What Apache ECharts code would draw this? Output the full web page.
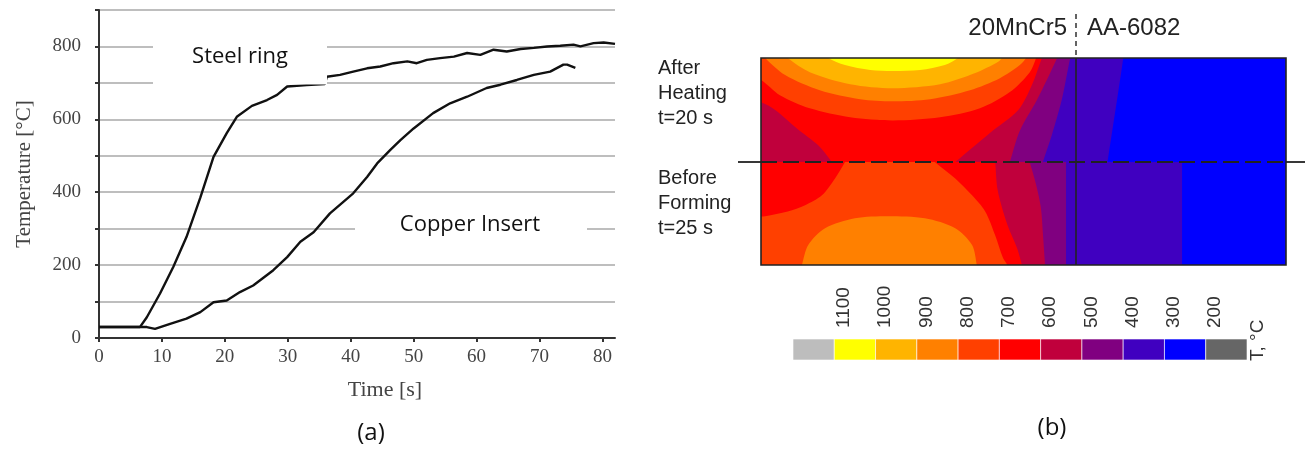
<!DOCTYPE html>
<html>
<head>
<meta charset="utf-8">
<script src="https://cdn.jsdelivr.net/npm/echarts@6/dist/echarts.min.js"></script>
<style>
html, body { margin: 0; padding: 0; background: #fff; }
#main { width: 1307px; height: 454px; }
</style>
</head>
<body>
<div id="main"></div>
<script>
// (a) measured temperatures, time [s] / temperature [°C]
const steelTime = [0, 6.5, 7.6, 9.7, 11.8, 13.9, 16.1, 18.2, 20.3, 21.9, 24.3, 26.7, 28.3, 29.9, 33, 35.9, 36.2, 38.3, 40.4, 42.6, 44.7, 46.8, 49.0, 50.5, 52.1, 54.2, 56.4, 58.5, 60.6, 62.7, 64.8, 67.0, 69.1, 71.2, 73.3, 75.4, 76.5, 78.6, 80.2, 82]
const steelTemp = [30, 30, 57, 122, 195, 277, 385, 497, 562, 607, 637, 653, 667, 690, 694, 697, 717, 722, 731, 740, 745, 754, 759, 754, 763, 768, 772, 782, 777, 791, 786, 793, 796, 800, 802, 805, 800, 809, 811, 807]
const copperTime = [0, 7.6, 8.9, 11.3, 13.9, 16.1, 18.2, 20.3, 22.4, 24.5, 27.7, 29.9, 32, 34.1, 36.7, 40.4, 42.6, 44.2, 46.3, 47.9, 50.0, 53.1, 55.8, 58.5, 61.6, 63.8, 66.4, 69.1, 71.7, 73.8, 74.4, 75.7]
const copperTemp = [30, 30, 25, 39, 53, 71, 98, 103, 126, 144, 186, 222, 264, 290, 342, 397, 442, 479, 516, 543, 575, 617, 644, 662, 686, 695, 708, 722, 731, 750, 750, 741]
const timeTicks = [0, 10, 20, 30, 40, 50, 60, 70, 80]
const tempLabels = [0, 200, 400, 600, 800]

// (b) isotherm regions (T >= level), x in % of section width, y in % of height
const isoLevels = [200, 300, 400, 500, 600, 700, 800, 900, 1000]
const isoColors = ['#0000ff', '#4000c0', '#800080', '#c0003c', '#ff0000', '#ff4000', '#ff8000', '#ffb400', '#ffff00']
const heatingIso = [
    [[-3, 47], [103, 47], [103, 103], [-3, 103]],
    [[69, 103], [69, 100], [66, 50], [65.8, 47], [-3, 47], [-3, 103]],
    [[59.3, 103], [58.9, 100], [57.3, 80], [55.4, 63], [53.7, 50], [53.5, 47], [-3, 47], [-3, 103]],
    [[56.8, 103], [56.4, 100], [52.6, 80], [49.3, 65], [47.4, 50], [47, 47], [-3, 47], [-3, 103]],
    [[54, 103], [53.5, 100], [51.6, 87], [49, 75], [43.6, 64], [37, 50], [35.5, 47], [14.5, 47], [13.5, 50], [10.9, 58], [6.9, 66], [2.7, 75], [0, 78.7], [-3, 80], [-3, 103]],
    [[52.6, 103], [52.4, 100], [51.2, 93.2], [47.4, 83.6], [41.7, 75.8], [34.1, 71.5], [25.1, 70], [17, 71.5], [9.3, 75.8], [3.6, 82.1], [0, 89.4], [-3, 92], [-3, 103]],
    [[0.2, 103], [0.8, 100], [4.6, 91.8], [11.2, 84.5], [18.9, 80.2], [25.1, 79.2], [32.2, 80.2], [39.8, 84.5], [45.5, 90.3], [49.3, 96.6], [50.5, 100], [51, 103]],
    [[4.5, 103], [5.1, 100], [9.3, 93.2], [17, 87.4], [25.1, 85.5], [34.1, 87.4], [40.8, 92.8], [45.1, 98.1], [45.9, 100], [46.3, 103]],
    [[12, 103], [12.8, 100], [16, 96.6], [20.8, 94.2], [25.1, 93.7], [30.3, 94.2], [35, 96.6], [37.5, 100], [38.3, 103]]
]
const formingIso = [
    [[-3, -3], [103, -3], [103, 53], [-3, 53]],
    [[-3, 53], [80.2, 53], [80.2, -3], [-3, -3]],
    [[-3, 53], [58.1, 53], [58.1, -3], [-3, -3]],
    [[-3, 53], [51, 53], [51.2, 50], [52.4, 39], [53.3, 28], [53.7, 15], [54.1, 0], [54.2, -3], [-3, -3]],
    [[-3, 53], [44.4, 53], [44.6, 50], [45.1, 36], [47, 19], [48.8, 8], [49.7, 0], [50, -3], [-3, -3]],
    [[16.5, 53], [16, 50], [14.1, 42], [11.6, 33.8], [8.4, 29], [5.1, 26], [0.8, 23.7], [-3, 22], [-3, -3], [46.9, -3], [46.9, 0], [46.1, 3.4], [44.6, 14.5], [42.7, 26], [40.2, 33.8], [37, 42], [33.1, 50], [32, 53]],
    [[7.6, -3], [7.8, 0], [9, 9.7], [12.2, 17.9], [17.9, 22.7], [24.2, 23.7], [31.2, 22.7], [37, 17.9], [40.2, 9.7], [41.1, 0], [41.2, -3]]
]
const steelWidth = 60
const scaleColors = ['#bdbdbd', '#ffff00', '#ffb400', '#ff8000', '#ff4000', '#ff0000', '#c0003c', '#800080', '#4000c0', '#0000ff', '#666666']
const scaleLabels = ['', '1100', '1000', '900', '800', '700', '600', '500', '400', '300', '200', '']

const serif = 'Liberation Serif'
const sans = 'Liberation Sans'
const calibri = 'Open Sans'

const chart = echarts.init(document.getElementById('main'))
const pairs = (xs, ys) => xs.map((x, i) => [x, ys[i]])

// plain boxes stay sharp, curved isotherms get smoothed
const isoSeries = (gridIndex, polys) => ({
    type: 'custom',
    xAxisIndex: gridIndex,
    yAxisIndex: gridIndex,
    clip: true,
    silent: true,
    data: polys.map((p, i) => [i]),
    renderItem: (params, api) => {
        const k = params.dataIndex
        return {
            type: 'polygon',
            shape: { points: polys[k].map(p => api.coord(p)), smooth: polys[k].length > 4 ? 0.3 : 0 },
            style: { fill: isoColors[k] }
        }
    }
})

const hidden = { show: false }
const option = {
    animation: false,
    grid: [
        { left: 99, top: 10, width: 516, height: 328 },
        { left: 761, top: 58, width: 525, height: 104 },
        { left: 761, top: 162, width: 525, height: 103 },
        { left: 793, top: 339, width: 454, height: 21 }
    ],
    xAxis: [
        {
            gridIndex: 0, type: 'value', min: 0, max: 82, interval: 10,
            name: 'Time [s]', nameLocation: 'middle', nameGap: 41,
            nameTextStyle: { fontFamily: serif, fontSize: 22, color: '#444', padding: [0, 0, 0, 56] },
            axisLine: { lineStyle: { color: '#333', width: 2 } },
            axisTick: { customValues: timeTicks, length: 4, lineStyle: { color: '#333', width: 2 } },
            axisLabel: { customValues: timeTicks, fontFamily: serif, fontSize: 19, color: '#444', margin: 10 },
            splitLine: hidden
        },
        { gridIndex: 1, type: 'value', min: 0, max: 100, show: false },
        { gridIndex: 2, type: 'value', min: 0, max: 100, show: false },
        {
            gridIndex: 3, type: 'value', min: 0, max: 11, interval: 1, position: 'top',
            axisLine: hidden, axisTick: hidden, splitLine: hidden,
            axisLabel: {
                rotate: 90, align: 'left', verticalAlign: 'top', margin: 11,
                fontFamily: sans, fontSize: 19, color: '#333',
                formatter: v => scaleLabels[v] || ''
            }
        }
    ],
    yAxis: [
        {
            gridIndex: 0, type: 'value', min: 0, max: 900, interval: 100,
            name: 'Temperature [°C]', nameLocation: 'middle', nameGap: 64,
            nameTextStyle: { fontFamily: serif, fontSize: 21, color: '#444' },
            axisLine: { show: true, lineStyle: { color: '#333', width: 2 } },
            axisTick: { show: true, length: 4, lineStyle: { color: '#333', width: 2 } },
            axisLabel: { customValues: tempLabels, fontFamily: serif, fontSize: 19, color: '#444', margin: 18 },
            splitLine: { lineStyle: { color: '#a8a8a8', width: 1.6 } }
        },
        { gridIndex: 1, type: 'value', min: 50, max: 100, show: false },
        { gridIndex: 2, type: 'value', min: 0, max: 50, show: false },
        { gridIndex: 3, type: 'value', min: 0, max: 1, show: false }
    ],
    series: [
        {
            name: 'Steel ring', type: 'line', xAxisIndex: 0, yAxisIndex: 0,
            data: pairs(steelTime, steelTemp), showSymbol: false,
            lineStyle: { color: '#111', width: 2.4 }
        },
        {
            name: 'Copper Insert', type: 'line', xAxisIndex: 0, yAxisIndex: 0,
            data: pairs(copperTime, copperTemp), showSymbol: false,
            lineStyle: { color: '#111', width: 2.4 }
        },
        isoSeries(1, heatingIso),
        isoSeries(2, formingIso),
        {
            type: 'custom', xAxisIndex: 3, yAxisIndex: 3, silent: true,
            data: scaleColors.map((c, i) => [i]),
            renderItem: (params, api) => {
                const i = params.dataIndex
                const a = api.coord([i, 1])
                const b = api.coord([i + 1, 0])
                return {
                    type: 'rect',
                    shape: { x: a[0], y: a[1], width: b[0] - a[0], height: b[1] - a[1] },
                    style: { fill: scaleColors[i], stroke: 'rgba(255,255,255,0.6)', lineWidth: 1 }
                }
            }
        }
    ],
    graphic: [
        { type: 'rect', z: 100, shape: { x: 153, y: 37, width: 174, height: 47.5 }, style: { fill: '#fff' } },
        { type: 'text', z: 101, x: 240, y: 57, style: { text: 'Steel ring', font: `22px "${calibri}"`, fill: '#111', align: 'center', verticalAlign: 'middle' } },
        { type: 'rect', z: 100, shape: { x: 355, y: 211, width: 232, height: 36 }, style: { fill: '#fff' } },
        { type: 'text', z: 101, x: 470, y: 225, style: { text: 'Copper Insert', font: `22px "${calibri}"`, fill: '#111', align: 'center', verticalAlign: 'middle' } },
        { type: 'text', z: 101, x: 371, y: 433, style: { text: '(a)', font: `24px "${calibri}"`, fill: '#111', align: 'center', verticalAlign: 'middle' } },
        { type: 'text', z: 101, x: 1052, y: 428, style: { text: '(b)', font: `24px "${calibri}"`, fill: '#111', align: 'center', verticalAlign: 'middle' } },
        { type: 'text', z: 101, x: 658, y: 93, style: { text: 'After\nHeating\nt=20 s', font: `20px "${sans}"`, lineHeight: 25, fill: '#222', align: 'left', verticalAlign: 'middle' } },
        { type: 'text', z: 101, x: 658, y: 203, style: { text: 'Before\nForming\nt=25 s', font: `20px "${sans}"`, lineHeight: 25, fill: '#222', align: 'left', verticalAlign: 'middle' } },
        { type: 'text', z: 101, x: 1258, y: 361, rotation: Math.PI / 2, style: { text: 'T, °C', font: `19px "${sans}"`, fill: '#333', align: 'left', verticalAlign: 'middle' } }
    ]
}
chart.setOption(option)

// frame of the section, material interface and the time split, placed through the grids' scales
const tl = chart.convertToPixel({ xAxisIndex: 1, yAxisIndex: 1 }, [0, 100])
const mid = chart.convertToPixel({ xAxisIndex: 1, yAxisIndex: 1 }, [steelWidth, 50])
const br = chart.convertToPixel({ xAxisIndex: 2, yAxisIndex: 2 }, [100, 0])
const line = (x1, y1, x2, y2, style) => ({ type: 'line', z: 110, shape: { x1, y1, x2, y2 }, style: Object.assign({ stroke: '#222', lineWidth: 1.6 }, style) })
chart.setOption({
    graphic: option.graphic.concat([
        { type: 'rect', z: 110, shape: { x: tl[0], y: tl[1], width: br[0] - tl[0], height: br[1] - tl[1] }, style: { fill: 'none', stroke: '#222', lineWidth: 1.6 } },
        line(mid[0], tl[1], mid[0], br[1], {}),
        line(mid[0], 14, mid[0], tl[1], { lineDash: [5, 4], lineWidth: 1.4 }),
        line(738, mid[1], tl[0], mid[1], { lineWidth: 1.8 }),
        line(tl[0], mid[1], br[0], mid[1], { lineDash: [16, 6], lineWidth: 2.2 }),
        line(br[0], mid[1], 1305, mid[1], { lineWidth: 1.8 }),
        { type: 'text', z: 110, x: mid[0] - 9, y: 28, style: { text: '20MnCr5', font: `24px "${sans}"`, fill: '#222', align: 'right', verticalAlign: 'middle' } },
        { type: 'text', z: 110, x: mid[0] + 11, y: 28, style: { text: 'AA-6082', font: `24px "${sans}"`, fill: '#222', align: 'left', verticalAlign: 'middle' } }
    ])
}, { replaceMerge: ['graphic'] })
</script>
</body>
</html>
